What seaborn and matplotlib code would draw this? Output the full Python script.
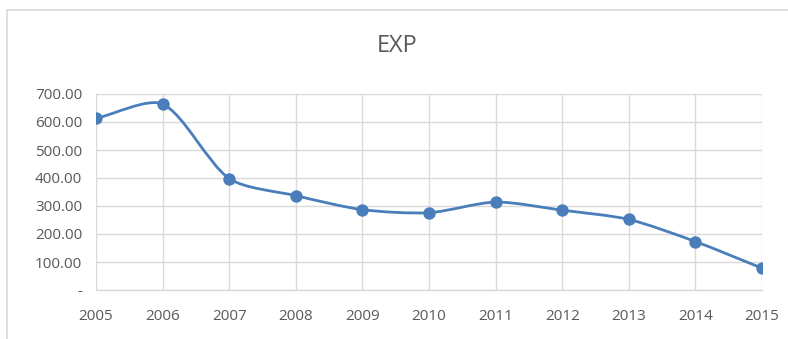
import numpy as np
import pandas as pd
import seaborn as sns
import matplotlib
matplotlib.use("Agg")
import matplotlib.pyplot as plt
from matplotlib.path import Path
from matplotlib.patches import PathPatch
from matplotlib.lines import Line2D

years = [2005, 2006, 2007, 2008, 2009, 2010, 2011, 2012, 2013, 2014, 2015]
exp_values = [613, 664, 398, 337, 287, 276, 314, 285, 252, 173, 78]
y_ticks = [0, 100, 200, 300, 400, 500, 600, 700]
y_tick_labels = ["-", "100.00", "200.00", "300.00", "400.00", "500.00", "600.00", "700.00"]
title = "EXP"

sns.set_theme(style="white")
plt.rcParams['font.family'] = ['Open Sans', 'DejaVu Sans']

LINE = "#4a7ebb"
GRID = "#d9d9d9"
TXT = "#595959"

fig = plt.figure(figsize=(7.88, 3.39), dpi=100)
ax = fig.add_axes([96/788, 1-290/339, (762-96)/788, (290-94)/339])
ax.set_xlim(2005, 2015)
ax.set_ylim(0, 700)

df = pd.DataFrame({"year": years, "EXP": exp_values})

# Excel-style smoothed line: cubic Bezier through the data points,
# tangent lengths weighted by adjacent segment lengths in display space
P = ax.transData.transform(np.column_stack([years, exp_values]).astype(float))
n = len(P)
k = 0.27
ctrl_out, ctrl_in = [], []
for i in range(n):
    prev = P[i-1] if i > 0 else P[i]
    nxt = P[i+1] if i < n-1 else P[i]
    d = nxt - prev
    lp = np.linalg.norm(P[i] - prev)
    ln = np.linalg.norm(nxt - P[i])
    tot = lp + ln if lp + ln > 0 else 1.0
    ctrl_out.append(P[i] + d * ln / tot * k)
    ctrl_in.append(P[i] - d * lp / tot * k)
verts = [P[0]]
codes = [Path.MOVETO]
for i in range(n-1):
    verts += [ctrl_out[i], ctrl_in[i+1], P[i+1]]
    codes += [Path.CURVE4]*3
inv = ax.transData.inverted()
verts_data = inv.transform(np.array(verts))
ax.add_patch(PathPatch(Path(verts_data, codes), facecolor="none", edgecolor=LINE,
                       lw=2.0, zorder=3, capstyle="round", joinstyle="round"))

sns.scatterplot(data=df, x="year", y="EXP", ax=ax, color=LINE, s=80,
                edgecolor=LINE, linewidth=0, zorder=4, legend=False)

ax.set_xlim(2005, 2015)
ax.set_ylim(0, 700)
ax.set_xticks(years)
ax.set_xticklabels([str(v) for v in years])
ax.set_yticks(y_ticks)
ax.set_yticklabels(y_tick_labels)
ax.grid(True, color=GRID, lw=1)
ax.set_axisbelow(True)
for s in ["top", "right", "left"]:
    ax.spines[s].set_visible(False)
ax.spines["bottom"].set_color(GRID)
ax.spines["bottom"].set_linewidth(1)
ax.tick_params(axis="both", length=0, labelsize=11, labelcolor=TXT)
ax.tick_params(axis="y", pad=10)
ax.tick_params(axis="x", pad=14)
ax.set_xlabel("")
ax.set_ylabel("")

fig.text(397/788, 1-46/339, title, ha="center", va="center", fontsize=17, color=TXT)

# chart frame (top and left edges visible)
fig.add_artist(Line2D([7/788, 1], [1-10/339, 1-10/339], transform=fig.transFigure,
                      color="#d9d9d9", lw=1.2))
fig.add_artist(Line2D([7/788, 7/788], [0, 1-10/339], transform=fig.transFigure,
                      color="#d9d9d9", lw=1.2))

fig.savefig("out.png", dpi=100)
